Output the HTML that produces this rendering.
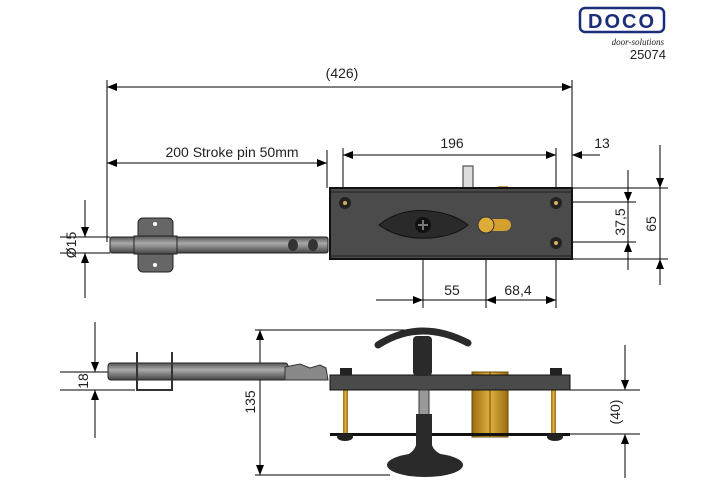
<!DOCTYPE html>
<html><head><style>body{margin:0;background:#fff}svg{display:block}text{font-family:"Liberation Sans",sans-serif;font-size:14px;fill:#222}</style></head><body>
<svg width="707" height="500" viewBox="0 0 707 500">
<defs>
<marker id="a" markerWidth="10" markerHeight="8" refX="10" refY="4" orient="auto-start-reverse" markerUnits="userSpaceOnUse"><path d="M0,0L10,4L0,8z" fill="#000"/></marker>
<linearGradient id="g" x1="0" y1="0" x2="0" y2="1"><stop offset="0" stop-color="#555"/><stop offset=".4" stop-color="#aaa"/><stop offset="1" stop-color="#444"/></linearGradient>
<linearGradient id="b" x1="0" y1="0" x2="1" y2="0"><stop offset="0" stop-color="#9a6d10"/><stop offset=".5" stop-color="#e0b040"/><stop offset="1" stop-color="#9a6d10"/></linearGradient>
</defs>
<rect x="580" y="8" width="84" height="24" rx="5" fill="#fff" stroke="#1c2d7a" stroke-width="2.5"/>
<text x="622" y="28" text-anchor="middle" style="font-size:20px;font-weight:bold;fill:#1c2d7a;letter-spacing:2px">DOCO</text>
<text x="664" y="45" text-anchor="end" style="font-size:9px;font-style:italic;font-family:'Liberation Serif',serif">door-solutions</text>
<text x="666" y="59" text-anchor="end" style="font-size:13px">25074</text>
<g stroke="#000" stroke-width="1" fill="none">
<line x1="107" y1="80" x2="107" y2="242"/><line x1="572" y1="80" x2="572" y2="188"/>
<line x1="107" y1="87" x2="572" y2="87" marker-start="url(#a)" marker-end="url(#a)"/>
<line x1="327" y1="150" x2="327" y2="188"/>
<line x1="107" y1="163" x2="327" y2="163" marker-start="url(#a)" marker-end="url(#a)"/>
<line x1="343" y1="148" x2="343" y2="200"/><line x1="556" y1="148" x2="556" y2="200"/>
<line x1="343" y1="155" x2="556" y2="155" marker-start="url(#a)" marker-end="url(#a)"/>
<line x1="600" y1="155" x2="572" y2="155" marker-end="url(#a)"/>
<line x1="572" y1="188" x2="668" y2="188"/><line x1="560" y1="202" x2="636" y2="202"/>
<line x1="560" y1="242" x2="636" y2="242"/><line x1="572" y1="259" x2="668" y2="259"/>
<line x1="628" y1="170" x2="628" y2="202" marker-end="url(#a)"/>
<line x1="628" y1="270" x2="628" y2="242" marker-end="url(#a)"/><line x1="628" y1="202" x2="628" y2="242"/>
<line x1="660" y1="145" x2="660" y2="188" marker-end="url(#a)"/>
<line x1="660" y1="285" x2="660" y2="259" marker-end="url(#a)"/><line x1="660" y1="188" x2="660" y2="259"/>
<line x1="423" y1="228" x2="423" y2="308"/><line x1="486" y1="228" x2="486" y2="308"/><line x1="556" y1="244" x2="556" y2="308"/>
<line x1="376" y1="300" x2="423" y2="300" marker-end="url(#a)"/>
<line x1="423" y1="300" x2="486" y2="300"/>
<line x1="486" y1="300" x2="556" y2="300" marker-start="url(#a)" marker-end="url(#a)"/>
<line x1="60" y1="237" x2="110" y2="237"/><line x1="60" y1="253" x2="110" y2="253"/>
<line x1="85" y1="200" x2="85" y2="237" marker-end="url(#a)"/>
<line x1="85" y1="298" x2="85" y2="253" marker-end="url(#a)"/>
<line x1="60" y1="372" x2="130" y2="372"/><line x1="60" y1="390" x2="135" y2="390"/>
<line x1="95" y1="322" x2="95" y2="372" marker-end="url(#a)"/>
<line x1="95" y1="438" x2="95" y2="390" marker-end="url(#a)"/>
<line x1="255" y1="330" x2="420" y2="330"/><line x1="255" y1="475" x2="390" y2="475"/>
<line x1="260" y1="330" x2="260" y2="475" marker-start="url(#a)" marker-end="url(#a)"/>
<line x1="570" y1="390" x2="640" y2="390"/><line x1="570" y1="434" x2="640" y2="434"/>
<line x1="625" y1="345" x2="625" y2="390" marker-end="url(#a)"/>
<line x1="625" y1="478" x2="625" y2="434" marker-end="url(#a)"/>
</g>
<text x="342" y="78" text-anchor="middle">(426)</text>
<text x="232" y="157" text-anchor="middle">200 Stroke pin 50mm</text>
<text x="452" y="148" text-anchor="middle">196</text>
<text x="602" y="148" text-anchor="middle">13</text>
<text x="452" y="295" text-anchor="middle">55</text>
<text x="518" y="295" text-anchor="middle">68,4</text>
<text transform="translate(625,222) rotate(-90)" text-anchor="middle">37,5</text>
<text transform="translate(656,224) rotate(-90)" text-anchor="middle">65</text>
<text transform="translate(76,245) rotate(-90)" text-anchor="middle">Ø15</text>
<text transform="translate(88,381) rotate(-90)" text-anchor="middle">18</text>
<text transform="translate(255,402) rotate(-90)" text-anchor="middle">135</text>
<text transform="translate(620,412) rotate(-90)" text-anchor="middle">(40)</text>
<rect x="110" y="237" width="218" height="16" rx="2" fill="url(#g)" stroke="#222"/>
<rect x="138" y="218" width="35" height="54" rx="5" fill="#666" stroke="#222"/>
<rect x="134" y="236" width="43" height="18" fill="url(#g)" stroke="#222"/>
<circle cx="155" cy="224" r="2" fill="#fff"/><circle cx="155" cy="265" r="2" fill="#fff"/>
<ellipse cx="293" cy="245" rx="5" ry="6" fill="#333"/><ellipse cx="313" cy="245" rx="5" ry="6" fill="#333"/>
<rect x="463" y="166" width="10" height="26" fill="#ddd" stroke="#333"/>
<rect x="498" y="186" width="10" height="4" fill="#c9a040"/>
<rect x="330" y="188" width="242" height="71" fill="#4b4b4b" stroke="#111" stroke-width="2"/>
<line x1="330" y1="192" x2="572" y2="192" stroke="#222"/><line x1="330" y1="256" x2="572" y2="256" stroke="#222"/>
<circle cx="345" cy="203" r="6" fill="#222"/><circle cx="345" cy="203" r="2" fill="#d9b060"/>
<circle cx="556" cy="203" r="6" fill="#222"/><circle cx="556" cy="203" r="2" fill="#d9b060"/>
<circle cx="556" cy="243" r="6" fill="#222"/><circle cx="556" cy="243" r="2" fill="#d9b060"/>
<path d="M379,225 Q400,208 430,211 Q455,214 468,225 Q455,236 430,238 Q400,240 379,225z" fill="#2a2a2a" stroke="#111"/>
<circle cx="423" cy="225" r="8" fill="#111"/><path d="M418,225h10M423,220v10" stroke="#777" stroke-width="2"/>
<rect x="484" y="219" width="27" height="12" rx="6" fill="#d4a030"/>
<circle cx="486" cy="225" r="8" fill="#e0ac38" stroke="#333"/>
<rect x="108" y="363" width="180" height="17" rx="3" fill="url(#g)" stroke="#222"/>
<path d="M285,367 L300,364 310,368 320,365 326,368 328,380 L285,380z" fill="#888" stroke="#333"/>
<path d="M137,352 V390 H172 V352" fill="none" stroke="#333" stroke-width="2"/>
<rect x="472" y="372" width="36" height="65" fill="url(#b)" stroke="#6a4a00"/>
<line x1="490" y1="372" x2="490" y2="437" stroke="#6a4a00"/>
<rect x="343" y="390" width="5" height="44" fill="url(#b)"/><rect x="551" y="390" width="5" height="44" fill="url(#b)"/>
<rect x="330" y="375" width="240" height="15" fill="#4a4a4a" stroke="#111"/>
<rect x="330" y="433" width="240" height="3" fill="#111"/>
<rect x="340" y="368" width="12" height="7" fill="#222"/><rect x="550" y="368" width="12" height="7" fill="#222"/>
<ellipse cx="345" cy="437" rx="8" ry="4" fill="#222"/><ellipse cx="555" cy="437" rx="8" ry="4" fill="#222"/>
<path d="M378,345 Q420,318 468,343" fill="none" stroke="#2a2a2a" stroke-width="7" stroke-linecap="round"/>
<rect x="413" y="336" width="19" height="40" rx="4" fill="#2a2a2a"/>
<rect x="419" y="390" width="10" height="27" fill="#999" stroke="#333"/>
<path d="M416,414 H432 V445 Q434,452 445,456 H405 Q414,452 416,445z" fill="#2a2a2a"/>
<ellipse cx="425" cy="465" rx="38" ry="12" fill="#2a2a2a"/>
</svg>
</body></html>
